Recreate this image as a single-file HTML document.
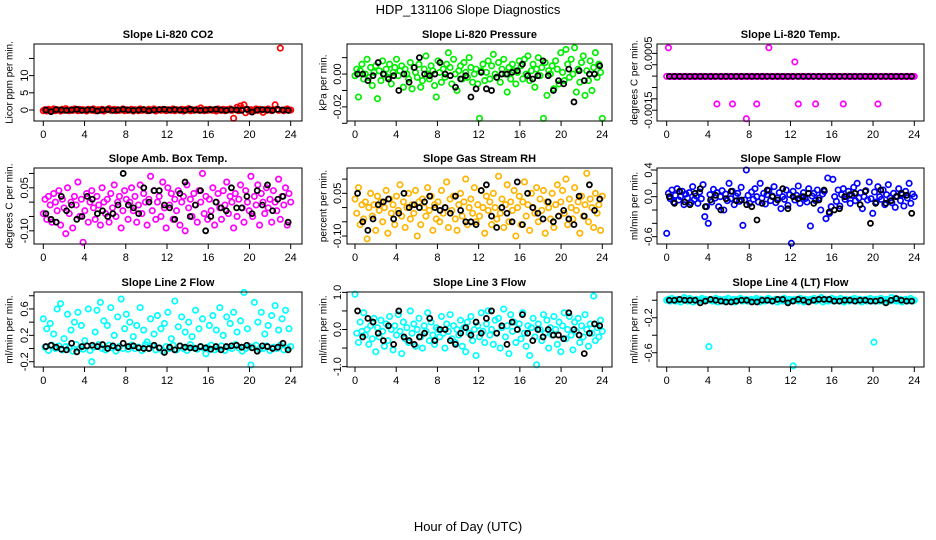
<!DOCTYPE html>
<html><head><meta charset="utf-8"><title>HDP_131106 Slope Diagnostics</title>
<style>
html,body{margin:0;padding:0;background:#fff;}
svg{display:block;font-family:"Liberation Sans",sans-serif;}
</style></head>
<body>
<svg id="chart" width="936" height="540" viewBox="0 0 936 540" xmlns="http://www.w3.org/2000/svg">
<text x="468" y="14" text-anchor="middle" font-size="13">HDP_131106  Slope Diagnostics</text>
<text x="468" y="531" text-anchor="middle" font-size="13">Hour of Day (UTC)</text>
</svg>
<script>
// ---- data (hand-read values; colored series sampled every 10 min, black every 30 min) ----
const xTicks = [0,4,8,12,16,20,24];
const co2Color = [-2,1,-3,2,0,-1,3,-2,1,0,-3,2,-1,4,0,-2,1,-1,3,0,-2,2,-1,1,0,-3,2,1,-1,3,-2,0,1,-1,2,-3,0,1,4,-1,0,2,-2,1,-1,0,3,-2,1,-1,0,2,-3,1,0,-2,3,-1,1,0,-2,2,-1,1,3,-3,0,1,-1,2,0,-2,1,0,-1,3,-2,1,0,-1,2,-3,1,0,4,-2,1,-1,0,2,-1,6,0,-2,1,-1,2,0,-1,1,-3,3,0,-1,2,-2,1,0,3,-1,-24,1,8,-2,12,4,15,-8,2,-3,1,0,-2,3,-1,2,0,-7,1,-1,3,0,-2,1,15,2,-1,180,0,-2,1,3,-1,0];
const co2Black = [0,-5,1,0,-1,0,2,-1,0,1,-3,0,1,-1,0,2,0,-1,0,1,-2,0,1,2,0,1,0,-1,2,0,-1,0,1,2,0,-1,1,0,-1,2,-6,0,1,0,-1,2,0,-1];
const presColor = [-1,3,-14,2,6,-3,0,9,-2,4,-7,1,5,-15,2,-4,8,0,3,-2,6,-6,1,4,9,-1,2,5,-8,3,0,-3,7,-9,4,1,-2,6,-8,-4,3,11,0,-3,5,2,-7,-14,8,1,-5,3,-2,6,13,4,-6,9,0,-10,2,5,-3,7,1,-2,10,4,-5,0,3,-6,-27,2,6,-4,1,8,-3,5,12,0,-2,7,-5,3,9,0,-11,4,-3,6,2,-6,1,8,5,-3,9,0,11,-4,2,6,-8,3,10,-1,4,-27,7,-13,2,0,5,-9,8,3,-6,13,1,-4,15,6,-2,9,0,16,-11,3,-5,7,11,-13,2,-4,8,-10,4,13,-2,6,1,-27];
const presBlack = [0,0,-4,-1,7,0,-3,-1,-10,0,-5,4,10,0,-1,0,7,0,-1,-8,-3,-1,-14,-9,1,-9,-10,-2,0,0,1,2,6,-1,-3,-1,8,-1,-10,-4,-6,3,-17,2,-4,0,0,5];
const tempColor = [-31,70,-31,-31,-31,-31,-31,-31,-31,-31,-31,-31,-31,-31,-31,-31,-31,-31,-31,-31,-31,-31,-31,-31,-31,-31,-31,-31,-31,-128,-31,-31,-31,-31,-31,-31,-31,-31,-128,-31,-31,-31,-31,-31,-31,-31,-180,-31,-31,-31,-31,-31,-128,-31,-31,-31,-31,-31,-31,70,-31,-31,-31,-31,-31,-31,-31,-31,-31,-31,-31,-31,-31,-31,20,-31,-128,-31,-31,-31,-31,-31,-31,-31,-31,-31,-128,-31,-31,-31,-31,-31,-31,-31,-31,-31,-31,-31,-31,-31,-31,-31,-128,-31,-31,-31,-31,-31,-31,-31,-31,-31,-31,-31,-31,-31,-31,-31,-31,-31,-31,-31,-128,-31,-31,-31,-31,-31,-31,-31,-31,-31,-31,-31,-31,-31,-31,-31,-31,-31,-31,-31,-31,-31];
const tempBlack = [-31,-31,-31,-31,-31,-31,-31,-31,-31,-31,-31,-31,-31,-31,-31,-31,-31,-31,-31,-31,-31,-31,-31,-31,-31,-31,-31,-31,-31,-31,-31,-31,-31,-31,-31,-31,-31,-31,-31,-31,-31,-31,-31,-31,-31,-31,-31,-31];
const boxColor = [-40,10,-60,20,-10,-70,30,0,-30,40,-80,10,-20,-110,50,-40,0,-90,20,-10,70,-50,10,-140,-30,30,-70,0,40,-20,-60,20,-10,-80,50,0,-40,10,-70,30,-20,60,-50,0,20,-90,-30,40,10,-60,0,50,-30,20,-70,-10,60,-40,30,0,-80,10,90,-30,40,-60,0,20,-50,70,-20,-90,50,-10,30,-60,10,-30,40,-80,0,20,-100,60,-20,10,-50,30,-10,-70,40,0,100,-40,20,-60,10,-30,50,-80,0,30,-20,-60,40,-10,70,-40,20,0,-90,30,-50,10,60,-20,-70,40,0,-30,90,-50,20,-10,60,-80,30,0,-40,50,-20,10,-70,40,0,-30,80,-60,20,-10,50,-80,30,0];
const boxBlack = [-40,-60,-70,20,-30,-10,-60,-50,20,10,-40,-30,-50,-40,-10,100,-10,-20,-40,50,0,40,40,-10,-20,-60,30,70,-50,-10,40,-100,-50,0,-20,-30,50,-20,-20,20,-40,40,-10,60,-30,10,20,-70];
const rhColor = [30,-20,70,-60,10,-40,20,-110,0,50,-30,10,-80,40,-10,20,-50,0,60,-90,30,-20,10,-60,40,-10,80,-30,20,-70,0,50,-40,10,-20,60,-100,20,-60,30,0,-30,70,-10,40,-80,10,-40,20,-50,60,-20,0,90,-70,30,-10,40,-40,-80,10,50,-30,20,100,-60,0,30,-20,70,-50,10,-30,60,0,-90,40,-10,20,-60,50,0,-40,110,-20,30,-70,10,80,-50,20,-10,60,-100,0,40,-60,20,90,-30,10,-80,50,0,-20,70,-50,30,-10,60,-90,20,0,-40,50,-70,10,80,-30,20,60,-20,100,-60,30,0,-40,70,-10,20,-90,40,-30,10,120,-50,30,0,-70,50,-20,10,-80,40];
const rhBlack = [50,-50,-80,-40,10,20,30,-40,-20,50,0,10,0,20,40,0,-10,0,-20,40,-10,-50,-50,-60,60,80,-30,-70,0,-20,-50,90,-60,50,0,-20,-40,20,-50,-30,-10,-40,-60,40,-30,80,-10,30];
const flowColor = [-55,5,-3,10,-8,2,12,-5,0,8,-12,4,-2,6,-9,15,-4,1,-10,7,-3,18,-30,-15,-40,3,-8,11,-2,6,-15,0,9,-20,4,-6,20,-3,8,-12,1,5,-7,14,-43,-5,40,2,-10,7,-4,12,0,-8,20,-2,5,-11,3,9,-6,1,15,-9,-2,6,-18,0,-4,10,-13,3,-70,8,-5,2,16,-10,0,6,-3,-8,12,-44,1,5,-6,10,-2,-20,4,8,-33,28,-25,-15,26,0,-7,10,-14,3,12,-4,0,8,-10,2,14,-6,20,-2,6,-18,0,9,-5,22,-3,-25,7,-8,15,0,-4,10,-12,3,18,-2,-9,5,-16,1,12,-6,3,-14,8,-2,20,-10,4,0];
const flowBlack = [0,-10,8,-8,-12,5,12,-15,-5,2,-20,-3,8,-6,-5,-12,-15,-35,-10,10,0,-5,12,-18,0,-3,0,5,-10,-5,10,-23,-20,-18,0,3,5,-12,8,-40,-10,10,-10,-6,0,5,2,-25];
const line2Color = [45,2,30,-3,38,5,22,0,60,4,68,-2,15,3,52,1,28,-4,40,6,55,0,35,-1,12,4,60,-3,-20,2,25,58,6,70,0,42,-2,35,5,62,1,20,-4,48,3,75,0,30,52,-1,40,5,18,0,35,2,62,-3,28,6,10,0,45,4,22,-2,50,1,30,-4,38,3,55,0,15,5,72,-2,33,4,48,0,25,-3,40,6,18,1,58,-1,30,3,45,0,-8,2,35,5,50,-2,28,0,62,4,20,-3,48,2,38,0,55,6,25,1,42,-4,85,0,30,3,-25,2,70,5,40,-1,55,0,22,4,35,-3,50,2,65,0,28,5,45,-2,58,1,30,3];
const line2Black = [3,5,2,-1,-2,8,-5,3,4,5,3,6,0,4,1,8,3,4,1,0,0,5,1,-6,2,-2,4,2,1,0,3,1,-1,3,-2,3,4,5,2,5,1,-4,4,3,0,2,8,-2];
const line3Color = [95,-10,-35,20,-5,45,-15,0,-40,10,-25,30,-60,5,-20,25,-5,-45,15,-30,35,0,-55,10,-15,40,-5,-65,20,-25,5,-35,50,-10,15,-45,0,30,-20,-50,10,-5,45,-30,20,-15,-40,5,0,-20,35,-10,-50,15,-5,40,-25,10,-35,0,-15,25,-45,5,-60,20,-10,35,-30,0,-70,10,-20,45,-5,-35,15,50,-15,0,-40,25,-10,30,-50,5,55,-20,10,-65,40,-5,20,-35,0,15,-25,45,-10,-45,10,-70,5,30,-20,-95,15,0,-30,40,-10,25,-50,5,-15,35,0,-40,20,-60,10,45,-25,0,35,-15,-55,20,-5,30,-35,10,-20,40,0,-45,15,-10,90,-30,5,-20,25,-5];
const line3Black = [50,-20,30,20,-10,-30,10,-40,50,-20,-30,-40,-20,-10,30,-30,0,0,-30,-40,-10,5,-15,20,-10,30,50,-10,10,-40,20,0,40,-10,-30,0,-20,0,-15,-15,-25,45,0,-15,-65,-10,15,10];
const line4Color = [0,1,-1,2,0,-1,1,0,-2,1,3,0,-1,2,1,-2,0,1,-1,0,2,-1,1,0,-53,1,-1,0,2,-2,1,0,-1,1,0,2,-1,0,1,-2,0,1,2,-1,0,1,-1,0,1,-1,0,2,0,-2,1,0,-1,1,2,0,-1,0,1,-2,0,1,-1,2,0,-1,1,0,-75,1,0,-1,2,0,-2,1,0,-1,1,0,2,-1,0,1,3,-2,0,1,-1,0,2,-1,1,0,-1,2,0,-2,1,0,-1,1,0,2,-1,0,1,-2,0,1,-1,0,2,-1,-48,1,0,-1,2,0,-2,1,0,-1,3,0,2,-1,0,1,-2,0,1,-1,0,2,-1,0];
const line4Black = [0,0,1,0,0,0,-3,-1,1,0,-1,-2,-2,-1,0,0,-2,-2,0,0,-1,1,1,-3,-1,1,0,-2,0,1,1,1,-1,-1,0,0,-1,0,0,-1,-1,0,-3,0,2,0,-1,-1];

// ---- layout (positions, not data) ----
const COLS = [{bx0:34,bx1:302,h0:43.3,h24:290.7,ylab:10,ytick:25},{bx0:347,bx1:612,h0:355,h24:602.3,ylab:324,ytick:338},{bx0:657,bx1:924,h0:666.7,h24:914.3,ylab:635,ytick:649}];
const ROWS = [{by0:44,by1:121},{by0:168,by1:244},{by0:292,by1:367}];
const panels = [
 {name:"co2",title:"Slope Li-820 CO2",ylab:"Licor ppm per min.",col:0,row:0,top:19.2,bot:-3.2,scale:0.1,color:"#ff0000",c:co2Color,b:co2Black,ticks:[0,5,10,15],labels:["0","5","10",""]},
 {name:"pressure",title:"Slope Li-820 Pressure",ylab:"kPa per min.",col:1,row:0,top:0.0183,bot:-0.0286,scale:0.001,color:"#00ee00",c:presColor,b:presBlack,ticks:[-0.03,-0.02,-0.01,0,0.01],labels:["","-0.02","","0.00",""]},
 {name:"temp",title:"Slope Li-820 Temp.",ylab:"degrees C per min.",col:2,row:0,top:0.00083,bot:-0.00188,scale:0.00001,color:"#ff00ff",c:tempColor,b:tempBlack,ticks:[0.0005,0.0001,-0.0003,-0.0007,-0.0011,-0.0015],labels:["0.0005","","","","","-0.0015"]},
 {name:"amb-box-temp",title:"Slope Amb. Box Temp.",ylab:"degrees C per min.",col:0,row:1,top:0.119,bot:-0.146,scale:0.001,color:"#ff00ff",c:boxColor,b:boxBlack,ticks:[0.1,0.05,0,-0.05,-0.1],labels:["","0.05","","","-0.10"]},
 {name:"gas-stream-rh",title:"Slope Gas Stream RH",ylab:"percent per min.",col:1,row:1,top:0.139,bot:-0.128,scale:0.001,color:"#ffb400",c:rhColor,b:rhBlack,ticks:[0.1,0.05,0,-0.05,-0.1],labels:["","0.05","","","-0.10"]},
 {name:"sample-flow",title:"Slope Sample Flow",ylab:"ml/min per min.",col:2,row:1,top:0.43,bot:-0.71,scale:0.01,color:"#0000ff",c:flowColor,b:flowBlack,ticks:[0.4,0.2,0,-0.2,-0.4,-0.6],labels:["0.4","","0.0","","","-0.6"]},
 {name:"line2-flow",title:"Slope Line 2 Flow",ylab:"ml/min per min.",col:0,row:2,top:0.857,bot:-0.28,scale:0.01,color:"#00ffff",c:line2Color,b:line2Black,ticks:[0.8,0.6,0.4,0.2,0,-0.2],labels:["","0.6","","0.2","","-0.2"]},
 {name:"line3-flow",title:"Slope Line 3 Flow",ylab:"ml/min per min.",col:1,row:2,top:1.01,bot:-1.01,scale:0.01,color:"#00ffff",c:line3Color,b:line3Black,ticks:[1,0.5,0,-0.5,-1],labels:["1.0","","0.0","","-1.0"]},
 {name:"line4-flow",title:"Slope Line 4 (LT) Flow",ylab:"ml/min per min.",col:2,row:2,top:0.094,bot:-0.763,scale:0.01,color:"#00ffff",c:line4Color,b:line4Black,ticks:[0,-0.2,-0.4,-0.6],labels:["","-0.2","","-0.6"]}
];

const NS = "http://www.w3.org/2000/svg";
const svg = document.getElementById("chart");
function mk(tag, attrs, parent){const e=document.createElementNS(NS,tag);for(const k in attrs)e.setAttribute(k,attrs[k]);(parent||svg).appendChild(e);return e;}

panels.forEach(p=>{
  const C=COLS[p.col], R=ROWS[p.row];
  const xs = h => C.h0 + (C.h24-C.h0)*h/24;
  const ys = v => R.by0 + (p.top - v)/(p.top - p.bot)*(R.by1-R.by0);
  const g = mk("g",{});
  
  
  const t = mk("text",{x:(C.bx0+C.bx1)/2,y:R.by0-6,"text-anchor":"middle","font-size":"11","font-weight":"bold"},g);
  t.textContent=p.title;
  
  
  const yl = mk("text",{x:0,y:0,transform:`translate(${C.ylab},${(R.by0+R.by1)/2}) rotate(-90)`,"text-anchor":"middle","font-size":"10","dominant-baseline":"middle"},g);
  yl.textContent=p.ylab;
  
  
  // colored series
  const n=p.c.length;
  p.c.forEach((v,i)=>{
    const c = mk("circle",{cx:xs(i*24/(n-1)),cy:ys(v*p.scale),r:2.7,fill:"none",stroke:p.color,"stroke-width":1.7},g);
    
    
  });
  // black series
  p.b.forEach((v,j)=>{
    const c = mk("circle",{cx:xs((j+0.5)*0.5),cy:ys(v*p.scale),r:2.5,fill:"none",stroke:"#000","stroke-width":1.8},g);
    
    
  });
  // box
  const box = mk("rect",{x:C.bx0,y:R.by0,width:C.bx1-C.bx0,height:R.by1-R.by0,fill:"none",stroke:"#000","stroke-width":1},g);
  
  
  // x axis
  mk("line",{x1:xs(0),x2:xs(24),y1:R.by1,y2:R.by1,stroke:"#000"},g);
  xTicks.forEach(h=>{
    mk("line",{x1:xs(h),x2:xs(h),y1:R.by1,y2:R.by1+5,stroke:"#000"},g);
    const tl = mk("text",{x:xs(h),y:R.by1+17,"text-anchor":"middle","font-size":"11"},g);
    tl.textContent=h;
    
    
  });
  // y axis
  const yt=p.ticks.map(ys);
  mk("line",{x1:C.bx0,x2:C.bx0,y1:Math.min(...yt),y2:Math.max(...yt),stroke:"#000"},g);
  p.ticks.forEach((v,i)=>{
    const y=ys(v);
    mk("line",{x1:C.bx0-5,x2:C.bx0,y1:y,y2:y,stroke:"#000"},g);
    if(p.labels[i]){
      const tl = mk("text",{x:0,y:0,transform:`translate(${C.ytick},${y}) rotate(-90)`,"text-anchor":"middle","font-size":"11","dominant-baseline":"middle"},g);
      tl.textContent=p.labels[i];
      
      
    }
  });
});
</script>
</body></html>
